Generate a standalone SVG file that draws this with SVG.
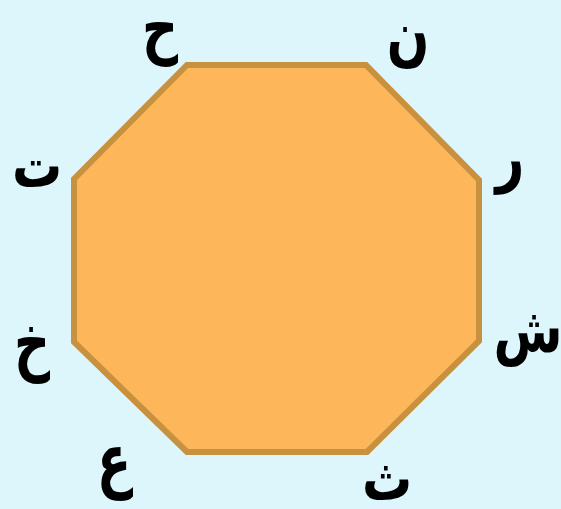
<svg xmlns="http://www.w3.org/2000/svg" width="561" height="509" viewBox="0 0 561 509">
<style>
.lbl{font-family:"DejaVu Sans",sans-serif;font-weight:bold;font-size:50px;fill:#000;text-anchor:middle}
.oct{fill:#FDB65A;stroke:#C8913F;stroke-width:6;stroke-linejoin:miter}
</style>
<rect width="561" height="509" fill="#DDF6FC"/>
<g id="octagon">
<polygon class="oct" points="187,65 366,65 479,180 479,341 367,452 187,452 74,342 74,179"/>
</g>
<g id="connectors"></g>
<g id="label-hah"><text class="lbl" transform="translate(160,51) scale(1,1.35)">ح</text></g>
<g id="label-noon"><text class="lbl" transform="translate(408,58) scale(1,1.35)">ن</text></g>
<g id="label-teh"><text class="lbl" transform="translate(37,187) scale(1,1.25)">ت</text></g>
<g id="label-reh"><text class="lbl" transform="translate(510,179) scale(1,1.3)">ر</text></g>
<g id="label-khah"><text class="lbl" transform="translate(32,367) scale(1,1.4)">خ</text></g>
<g id="label-sheen"><text class="lbl" transform="translate(528,352) scale(1,1.25)">ش</text></g>
<g id="label-ain"><text class="lbl" transform="translate(114,484) scale(1,1.4)">ع</text></g>
<g id="label-theh"><text class="lbl" transform="translate(387,500) scale(1,1.25)">ث</text></g>
</svg>
